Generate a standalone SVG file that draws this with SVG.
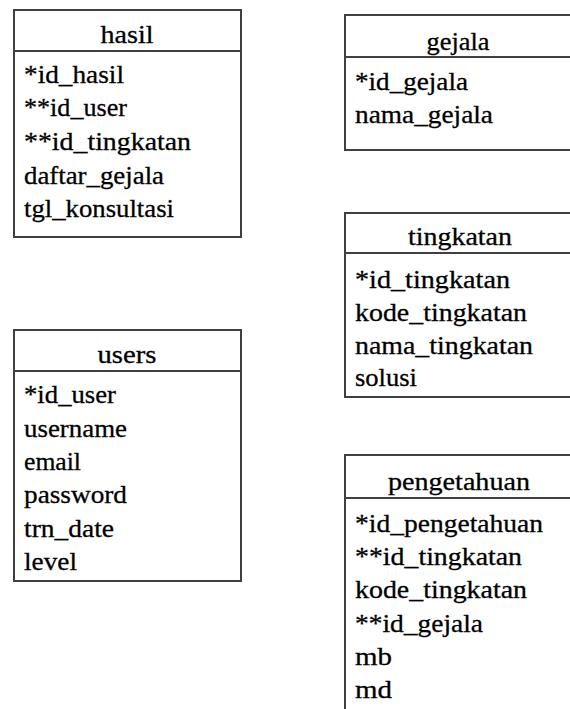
<svg xmlns="http://www.w3.org/2000/svg" width="570" height="709" viewBox="0 0 570 709">
<style>
.box{fill:#fff;stroke:#404040;stroke-width:2}
.sep{stroke:#404040;stroke-width:2}
.t{font-size:26px;fill:#000;stroke:#000;stroke-width:0.3}
.h{text-anchor:middle}
</style>
<rect width="570" height="709" fill="#fff"/>
<g font-family="'Liberation Serif', 'Times New Roman', Times, 'DejaVu Serif', serif" class="t">
<g id="hasil">
<rect class="box" x="14" y="10" width="227" height="227"/>
<line class="sep" x1="14" y1="51" x2="241" y2="51"/>
<text class="h" x="127" y="43" textLength="53" lengthAdjust="spacingAndGlyphs">hasil</text>
<text x="24" y="83" textLength="100" lengthAdjust="spacingAndGlyphs">*id_hasil</text>
<text x="24" y="116" textLength="103" lengthAdjust="spacingAndGlyphs">**id_user</text>
<text x="24" y="150" textLength="167" lengthAdjust="spacingAndGlyphs">**id_tingkatan</text>
<text x="24" y="184" textLength="140" lengthAdjust="spacingAndGlyphs">daftar_gejala</text>
<text x="24" y="217" textLength="150" lengthAdjust="spacingAndGlyphs">tgl_konsultasi</text>
</g>
<g id="users">
<rect class="box" x="14" y="330" width="227" height="251"/>
<line class="sep" x1="14" y1="371" x2="241" y2="371"/>
<text class="h" x="127" y="363" textLength="59" lengthAdjust="spacingAndGlyphs">users</text>
<text x="24" y="403" textLength="92" lengthAdjust="spacingAndGlyphs">*id_user</text>
<text x="24" y="437" textLength="103" lengthAdjust="spacingAndGlyphs">username</text>
<text x="24" y="470" textLength="57" lengthAdjust="spacingAndGlyphs">email</text>
<text x="24" y="503" textLength="103" lengthAdjust="spacingAndGlyphs">password</text>
<text x="24" y="537" textLength="90" lengthAdjust="spacingAndGlyphs">trn_date</text>
<text x="24" y="570" textLength="53" lengthAdjust="spacingAndGlyphs">level</text>
</g>
<g id="gejala">
<rect class="box" x="345" y="15" width="230" height="135"/>
<line class="sep" x1="345" y1="57" x2="575" y2="57"/>
<text class="h" x="458" y="50" textLength="63" lengthAdjust="spacingAndGlyphs">gejala</text>
<text x="355" y="90" textLength="113" lengthAdjust="spacingAndGlyphs">*id_gejala</text>
<text x="355" y="123" textLength="138" lengthAdjust="spacingAndGlyphs">nama_gejala</text>
</g>
<g id="tingkatan">
<rect class="box" x="345" y="213" width="230" height="184"/>
<line class="sep" x1="345" y1="253" x2="575" y2="253"/>
<text class="h" x="460" y="245" textLength="104" lengthAdjust="spacingAndGlyphs">tingkatan</text>
<text x="355" y="288" textLength="155" lengthAdjust="spacingAndGlyphs">*id_tingkatan</text>
<text x="355" y="321" textLength="172" lengthAdjust="spacingAndGlyphs">kode_tingkatan</text>
<text x="355" y="354" textLength="178" lengthAdjust="spacingAndGlyphs">nama_tingkatan</text>
<text x="355" y="386" textLength="62" lengthAdjust="spacingAndGlyphs">solusi</text>
</g>
<g id="pengetahuan">
<rect class="box" x="345" y="455" width="230" height="270"/>
<line class="sep" x1="345" y1="498" x2="575" y2="498"/>
<text class="h" x="459" y="490" textLength="142" lengthAdjust="spacingAndGlyphs">pengetahuan</text>
<text x="355" y="532" textLength="188" lengthAdjust="spacingAndGlyphs">*id_pengetahuan</text>
<text x="355" y="565" textLength="167" lengthAdjust="spacingAndGlyphs">**id_tingkatan</text>
<text x="355" y="598" textLength="172" lengthAdjust="spacingAndGlyphs">kode_tingkatan</text>
<text x="355" y="632" textLength="128" lengthAdjust="spacingAndGlyphs">**id_gejala</text>
<text x="355" y="665" textLength="37" lengthAdjust="spacingAndGlyphs">mb</text>
<text x="355" y="698" textLength="37" lengthAdjust="spacingAndGlyphs">md</text>
</g>
</g>
<g id="connectors"/>
</svg>
